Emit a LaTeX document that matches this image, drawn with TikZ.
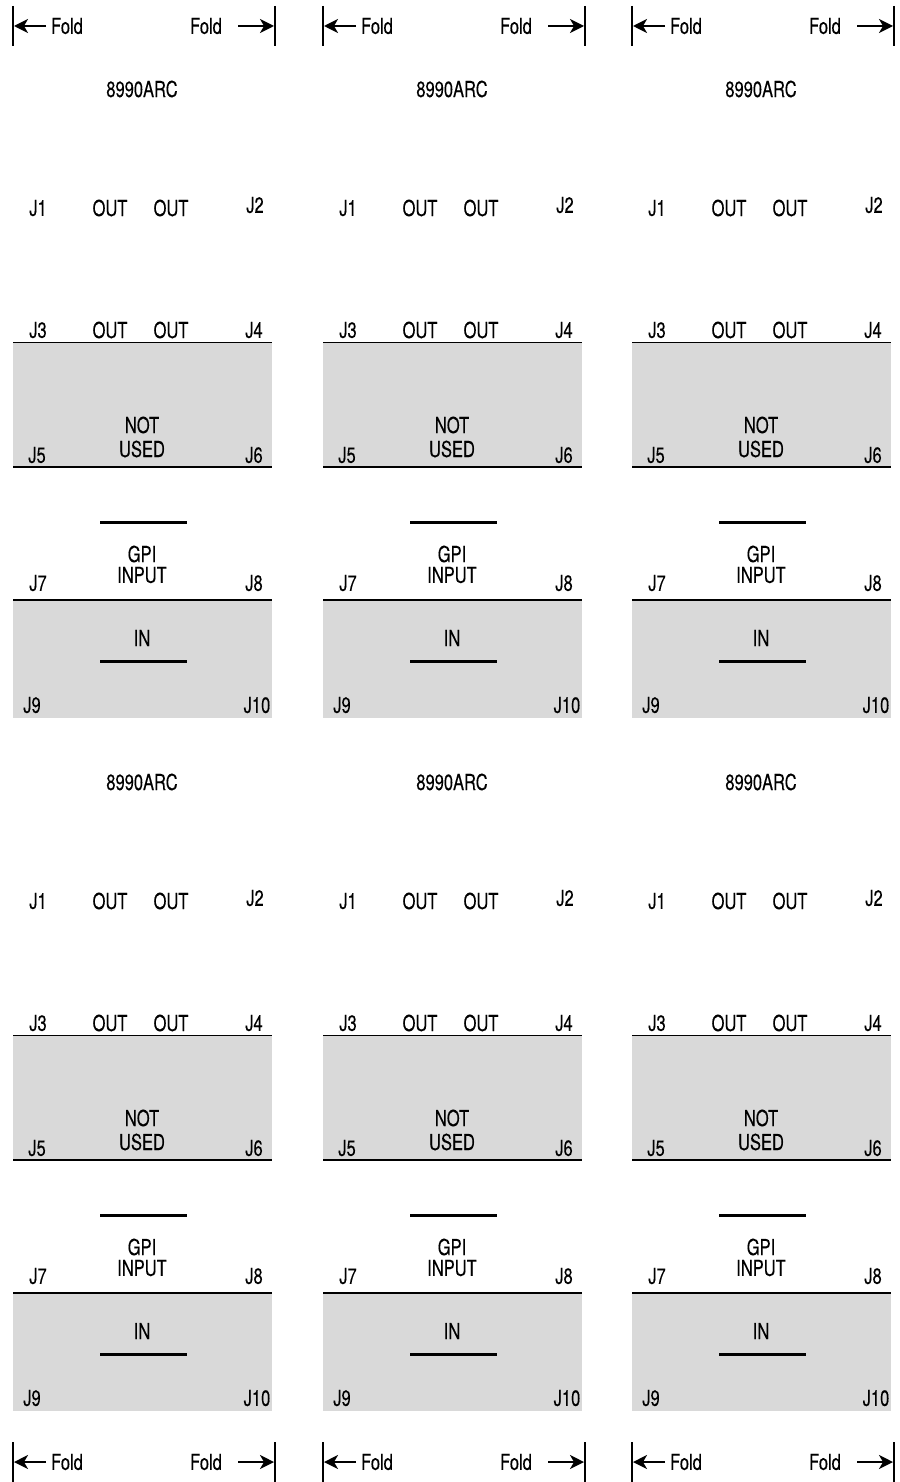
\documentclass[tikz,border=0pt]{standalone}
\usepackage{fontspec}
\setmainfont{TeX Gyre Heros}[FakeStretch=0.75,FakeBold=0.2]
\usetikzlibrary{arrows.meta}
\definecolor{panelgray}{RGB}{217,217,217}
\tikzset{
  lbl/.style={inner sep=0pt, font=\fontsize{22}{24}\selectfont},
  rule/.style={line width=1.4pt},
  bar/.style={line width=3pt},
  foldbar/.style={line width=2pt},
  foldarrow/.style={line width=2pt, -{Stealth[length=14pt,width=14pt,inset=4pt]}},
  panel/.style={fill=panelgray, draw=none}
}
\begin{document}
\begin{tikzpicture}[x=1pt,y=-1pt]
\path[use as bounding box, fill=white] (0,0) rectangle (899,1482);
% fold marks
\foreach \c/\xo in {1/13,2/323,3/632}{
  \foreach \f/\fy in {t/26,b/1462}{
    \coordinate (fl-\c-\f) at (\xo+1,\fy);
    \coordinate (fr-\c-\f) at (\xo+261,\fy);
    \coordinate (fls-\c-\f) at (\xo+33,\fy);
    \coordinate (frs-\c-\f) at (\xo+225,\fy);
    \draw[foldbar] (\xo,\fy-20) -- (\xo,\fy+20);
    \draw[foldbar] (\xo+262,\fy-20) -- (\xo+262,\fy+20);
    \draw[foldarrow] (fls-\c-\f) -- (fl-\c-\f);
    \draw[foldarrow] (frs-\c-\f) -- (fr-\c-\f);
    \node[lbl] (foldL-\c-\f) at (\xo+54,\fy) {Fold};
    \node[lbl] (foldR-\c-\f) at (\xo+193,\fy) {Fold};
  }
}
% panels
\foreach \c/\xo in {1/13,2/323,3/632}{
  \foreach \r/\dy in {1/0,2/693}{
    \fill[panel] (\xo,342+\dy) rectangle (\xo+259,467+\dy);
    \fill[panel] (\xo,600+\dy) rectangle (\xo+259,718+\dy);
    \draw[rule] (\xo,342.5+\dy) -- (\xo+259,342.5+\dy);
    \draw[rule] (\xo,467+\dy) -- (\xo+259,467+\dy);
    \draw[rule] (\xo,600+\dy) -- (\xo+259,600+\dy);
    \draw[bar] (\xo+87,522+\dy) -- (\xo+174,522+\dy);
    \draw[bar] (\xo+87,661+\dy) -- (\xo+174,661+\dy);
    \node[lbl] (arc-\c-\r) at (\xo+129,89+\dy) {8990ARC};
    \node[lbl] (j1-\c-\r) at (\xo+25,208+\dy) {J1};
    \node[lbl] (o1-\c-\r) at (\xo+97,208+\dy) {OUT};
    \node[lbl] (o2-\c-\r) at (\xo+158,208+\dy) {OUT};
    \node[lbl] (j2-\c-\r) at (\xo+242,205+\dy) {J2};
    \node[lbl] (j3-\c-\r) at (\xo+25,330+\dy) {J3};
    \node[lbl] (o3-\c-\r) at (\xo+97,330+\dy) {OUT};
    \node[lbl] (o4-\c-\r) at (\xo+158,330+\dy) {OUT};
    \node[lbl] (j4-\c-\r) at (\xo+241,330+\dy) {J4};
    \node[lbl] (not-\c-\r) at (\xo+129,425+\dy) {NOT};
    \node[lbl] (used-\c-\r) at (\xo+129,449+\dy) {USED};
    \node[lbl] (j5-\c-\r) at (\xo+24,455+\dy) {J5};
    \node[lbl] (j6-\c-\r) at (\xo+241,455+\dy) {J6};
    \node[lbl] (gpi-\c-\r) at (\xo+129,554+\dy) {GPI};
    \node[lbl] (inp-\c-\r) at (\xo+129,575+\dy) {INPUT};
    \node[lbl] (j7-\c-\r) at (\xo+25,583+\dy) {J7};
    \node[lbl] (j8-\c-\r) at (\xo+241,583+\dy) {J8};
    \node[lbl] (in-\c-\r) at (\xo+129,638+\dy) {IN};
    \node[lbl] (j9-\c-\r) at (\xo+19,705+\dy) {J9};
    \node[lbl] (j10-\c-\r) at (\xo+244,705+\dy) {J10};
  }
}
\end{tikzpicture}
\end{document}
